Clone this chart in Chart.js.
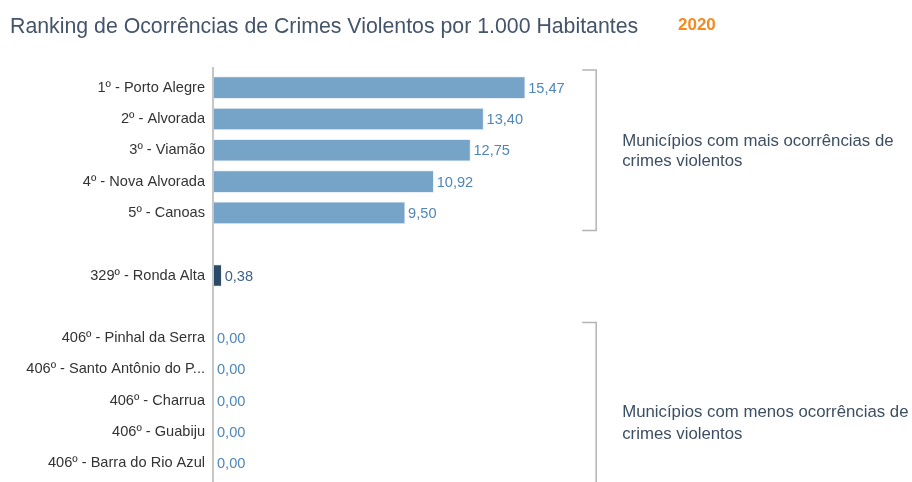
<!DOCTYPE html>
<html>
<head>
<meta charset="utf-8">
<script src="https://cdn.jsdelivr.net/npm/chart.js@4"></script>
<style>
  html, body { margin: 0; padding: 0; background: #fff; }
  #wrap { width: 912px; height: 482px; position: relative; }
</style>
</head>
<body>
<div id="wrap"><canvas id="rankChart" width="912" height="482"></canvas></div>
<script>
// data (blank rows are spacers)
const ranks = ['1º', '2º', '3º', '4º', '5º', '', '329º', '', '406º', '406º', '406º', '406º', '406º'];
const cities = ['Porto Alegre', 'Alvorada', 'Viamão', 'Nova Alvorada', 'Canoas', '', 'Ronda Alta', '',
  'Pinhal da Serra', 'Santo Antônio do P...', 'Charrua', 'Guabiju', 'Barra do Rio Azul'];
const values = [15.47, 13.40, 12.75, 10.92, 9.50, null, 0.38, null, 0.00, 0.00, 0.00, 0.00, 0.00];
const year = '2020';
const title = 'Ranking de Ocorrências de Crimes Violentos por 1.000 Habitantes';
const topNote = ['Municípios com mais ocorrências de', 'crimes violentos'];
const bottomNote = ['Municípios com menos ocorrências de', 'crimes violentos'];

const labels = ranks.map((r, i) => r ? r + ' - ' + cities[i] : '');
const barColors = values.map((v, i) => i === 6 ? '#2b4a68' : '#76a4c8');
const fmt = v => v.toFixed(2).replace('.', ',');

const FONT = '"Liberation Sans", Arial, sans-serif';

const extras = {
  id: 'extras',
  afterDraw(chart) {
    const ctx = chart.ctx;
    const x = chart.scales.x, y = chart.scales.y;
    const meta = chart.getDatasetMeta(0);
    ctx.save();

    // title
    ctx.textBaseline = 'middle';
    ctx.textAlign = 'left';
    ctx.fillStyle = '#44546a';
    ctx.font = '21.3px ' + FONT;
    ctx.fillText(title, 10, 27);
    ctx.fillStyle = '#f58a1f';
    ctx.font = 'bold 17px ' + FONT;
    ctx.fillText(year, 678, 25);

    // axis line
    const ax = x.getPixelForValue(0);
    ctx.strokeStyle = '#c6c6c6';
    ctx.lineWidth = 2;
    ctx.beginPath();
    ctx.moveTo(ax - 1, 67);
    ctx.lineTo(ax - 1, chart.height);
    ctx.stroke();

    // value labels
    ctx.font = '14.6px ' + FONT;
    meta.data.forEach((bar, i) => {
      const v = values[i];
      if (v === null) return;
      ctx.fillStyle = i === 6 ? '#3e6288' : '#4f86b8';
      ctx.fillText(fmt(v), bar.x + 3, bar.y + 1);
    });

    // brackets
    const band = (y.getPixelForValue(1) - y.getPixelForValue(0));
    const bx = x.getPixelForValue(19);
    ctx.strokeStyle = '#b4b4b4';
    ctx.lineWidth = 1.5;
    const bracket = (top, bottom) => {
      ctx.beginPath();
      ctx.moveTo(bx - 14, top);
      ctx.lineTo(bx, top);
      ctx.lineTo(bx, bottom);
      ctx.lineTo(bx - 14, bottom);
      ctx.stroke();
    };
    const t1 = y.getPixelForValue(0) - band / 2 - 2;
    const b1 = y.getPixelForValue(4) + band / 2 + 2;
    bracket(t1, b1);
    const t2 = y.getPixelForValue(8) - band / 2;
    bracket(t2, chart.height + 20);

    // notes
    ctx.fillStyle = '#3d4f63';
    ctx.font = '16.8px ' + FONT;
    const c1 = (t1 + b1) / 2;
    ctx.fillText(topNote[0], bx + 26, c1 - 9);
    ctx.fillText(topNote[1], bx + 26, c1 + 11);
    const c2 = (y.getPixelForValue(10) + y.getPixelForValue(11)) / 2 + 7;
    ctx.fillText(bottomNote[0], bx + 26, c2 - 11);
    ctx.fillText(bottomNote[1], bx + 26, c2 + 11);

    ctx.restore();
  }
};

new Chart(document.getElementById('rankChart').getContext('2d'), {
  type: 'bar',
  data: {
    labels: labels,
    datasets: [{
      data: values,
      backgroundColor: barColors,
      borderColor: '#e8eff6',
      borderWidth: 1,
      barThickness: 22
    }]
  },
  options: {
    indexAxis: 'y',
    responsive: false,
    animation: false,
    layout: { padding: { top: 72, bottom: 3, left: 0, right: 0 } },
    plugins: {
      legend: { display: false },
      tooltip: { enabled: false },
      title: { display: false }
    },
    scales: {
      x: {
        display: false,
        min: 0,
        max: 34.7
      },
      y: {
        afterFit(scale) {
          scale.width = 214;
          scale.paddingTop = 0;
          scale.paddingBottom = 0;
        },
        grid: { display: false, drawTicks: false },
        border: { display: false },
        ticks: {
          padding: 9,
          color: '#333333',
          font: { family: FONT, size: 14.6 }
        }
      }
    }
  },
  plugins: [extras]
});
</script>
</body>
</html>
